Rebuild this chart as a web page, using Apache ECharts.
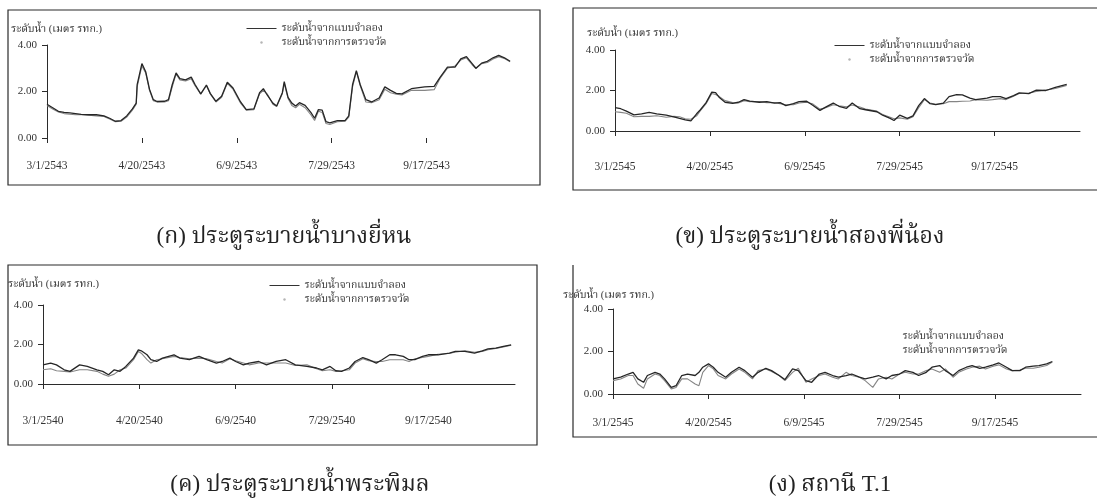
<!DOCTYPE html>
<html>
<head>
<meta charset="utf-8">
<script src="https://cdn.jsdelivr.net/npm/echarts@6/dist/echarts.min.js"></script>
<style>
  html, body { margin: 0; padding: 0; background: #fff; }
  #chart { width: 1097px; height: 500px; }
</style>
</head>
<body>
<div id="chart"></div>
<script>
// Series names, axis title and captions
const MODEL = 'ระดับน้ำจากแบบจำลอง';
const OBS = 'ระดับน้ำจากการตรวจวัด';
const yTitle = 'ระดับน้ำ (เมตร รทก.)';
const captions = [
  '(ก) ประตูระบายน้ำบางยี่หน',
  '(ข) ประตูระบายน้ำสองพี่น้อง',
  '(ค) ประตูระบายน้ำพระพิมล',
  '(ง) สถานี T.1'
];

// Axis ticks: days counted from 1 March, labelled every 50 days
const tickDays = [0, 50, 100, 150, 200];
const labelsA = ['3/1/2543', '4/20/2543', '6/9/2543', '7/29/2543', '9/17/2543'];
const labelsB = ['3/1/2545', '4/20/2545', '6/9/2545', '7/29/2545', '9/17/2545'];
const labelsC = ['3/1/2540', '4/20/2540', '6/9/2540', '7/29/2540', '9/17/2540'];
const labelsD = ['3/1/2545', '4/20/2545', '6/9/2545', '7/29/2545', '9/17/2545'];
const yTickValues = [0, 2, 4];

// (ก) Bang Yi Hon
const daysA = [0,3,6,9,12,15,18,22,26,30,33,36,39,42,45,47,47.5,50,52,54,56,58,62,64,66,68,70,73,76,78,81,84,86,89,92,95,98,102,105,109,112,114,116,119,121,124,125,127,129,131,133,136,139,141,143,145,147,149,153,157,159,161,163,165,168,171,175,178,181,184,187,192,199,204,207,211,215,218,221,224,226,229,232,235,238,241,244];
const modelA = [1.45,1.30,1.15,1.10,1.08,1.05,1.02,1.00,1.00,0.95,0.85,0.72,0.75,0.95,1.25,1.50,2.30,3.20,2.85,2.10,1.65,1.57,1.58,1.65,2.30,2.80,2.55,2.50,2.62,2.30,1.90,2.28,1.92,1.58,1.80,2.40,2.15,1.55,1.22,1.25,1.95,2.12,1.85,1.50,1.38,1.95,2.42,1.75,1.50,1.38,1.52,1.40,1.10,0.85,1.22,1.20,0.70,0.65,0.75,0.75,0.95,2.30,2.90,2.30,1.65,1.55,1.72,2.20,2.05,1.92,1.90,2.12,2.20,2.22,2.60,3.05,3.05,3.40,3.50,3.20,3.00,3.22,3.30,3.45,3.55,3.45,3.30];
const obsA = [1.40,1.25,1.12,1.05,1.02,1.00,1.00,0.98,0.95,0.93,0.82,0.70,0.72,0.90,1.20,1.45,2.20,3.10,2.80,2.05,1.60,1.55,1.55,1.60,2.20,2.75,2.50,2.45,2.55,2.25,1.88,2.25,1.90,1.55,1.75,2.35,2.10,1.50,1.20,1.22,1.90,2.05,1.90,1.45,1.35,1.90,2.35,1.70,1.40,1.30,1.45,1.30,1.00,0.75,1.15,1.10,0.62,0.58,0.70,0.72,0.90,2.20,2.85,2.25,1.55,1.52,1.65,2.10,1.95,1.88,1.85,2.05,2.05,2.08,2.55,3.00,3.10,3.35,3.45,3.15,2.98,3.20,3.25,3.40,3.50,3.42,3.28];

// (ข) Song Phi Nong
const daysB = [0,3,6,10,14,18,22,27,31,34,37,40,43,45,48,51,53,55,58,62,65,68,71,76,80,84,87,90,94,97,101,104,108,111,115,118,122,125,129,132,138,141,145,147,150,154,157,160,163,166,169,173,176,180,183,187,190,196,199,203,206,210,213,218,222,227,232,238];
const modelB = [1.15,1.10,0.98,0.80,0.85,0.92,0.85,0.78,0.70,0.62,0.55,0.50,0.85,1.05,1.40,1.92,1.90,1.65,1.42,1.36,1.42,1.55,1.48,1.42,1.45,1.38,1.40,1.25,1.35,1.45,1.47,1.28,1.02,1.18,1.38,1.22,1.12,1.38,1.10,1.05,0.95,0.78,0.62,0.52,0.78,0.62,0.75,1.25,1.60,1.35,1.30,1.38,1.70,1.80,1.78,1.62,1.55,1.62,1.70,1.70,1.60,1.75,1.88,1.85,2.02,2.00,2.15,2.30];
const obsB = [0.95,0.92,0.88,0.70,0.72,0.72,0.75,0.68,0.72,0.70,0.60,0.58,0.75,1.00,1.35,1.85,1.80,1.70,1.50,1.40,1.38,1.50,1.45,1.45,1.40,1.40,1.35,1.30,1.30,1.38,1.42,1.35,1.08,1.15,1.30,1.25,1.20,1.28,1.18,1.08,0.98,0.82,0.68,0.60,0.65,0.58,0.70,1.15,1.55,1.38,1.32,1.35,1.45,1.45,1.47,1.48,1.55,1.52,1.55,1.60,1.55,1.72,1.85,1.88,1.95,2.02,2.10,2.25];

// (ค) Phra Phimon
const daysC = [0,4,7,11,14,19,23,28,31,34,37,40,43,47,49.5,51,54,56,59,62,68,71,76,81,85,90,93,97,100,104,107,112,116,121,126,131,137,142,145,149,152,155,159,162,166,169,173,176,180,183,187,190,193,197,200,205,211,214,219,224,228,231,235,239,243];
const modelC = [0.97,1.06,0.97,0.72,0.64,0.97,0.89,0.72,0.64,0.47,0.72,0.64,0.89,1.31,1.73,1.68,1.48,1.23,1.14,1.31,1.48,1.31,1.23,1.40,1.23,1.06,1.14,1.31,1.14,0.97,1.06,1.14,0.97,1.14,1.23,0.97,0.89,0.81,0.72,0.89,0.67,0.64,0.81,1.14,1.34,1.23,1.06,1.23,1.48,1.48,1.40,1.23,1.23,1.40,1.48,1.48,1.56,1.65,1.65,1.56,1.68,1.78,1.82,1.90,1.98];
const obsC = [0.72,0.77,0.67,0.64,0.61,0.72,0.72,0.64,0.50,0.39,0.50,0.72,0.81,1.23,1.65,1.56,1.23,1.06,1.23,1.28,1.40,1.34,1.28,1.31,1.28,1.14,1.06,1.28,1.18,1.06,0.97,1.06,1.06,1.06,1.06,0.94,0.97,0.77,0.67,0.72,0.64,0.67,0.72,1.06,1.28,1.18,1.14,1.14,1.23,1.23,1.23,1.14,1.28,1.34,1.40,1.51,1.56,1.61,1.68,1.61,1.65,1.73,1.80,1.88,1.96];

// (ง) Station T.1
const daysD = [0,4,8,10.5,13,16,18,22,24.5,27,30.5,33,36,39,43,45,47,50,52.5,55,59,62,66,69,73,76,80,83,87,90,94,97,101,104,108,111,115,118,122,125,129,132,136,139,143,146,150,153,157,160,164,167,171,174,178,181,185,188,192,195,199,202,206,209,213,216,220,223,227,230];
const modelD = [0.71,0.79,0.94,1.02,0.71,0.55,0.87,1.02,0.94,0.71,0.31,0.39,0.87,0.94,0.87,1.02,1.26,1.42,1.26,1.02,0.79,1.02,1.26,1.10,0.79,1.02,1.21,1.10,0.87,0.68,1.18,1.10,0.63,0.55,0.94,1.02,0.87,0.79,0.87,0.94,0.79,0.71,0.79,0.87,0.71,0.87,0.94,1.10,1.02,0.87,1.02,1.26,1.34,1.10,0.87,1.10,1.26,1.34,1.21,1.26,1.37,1.46,1.26,1.10,1.10,1.26,1.31,1.34,1.42,1.53];
const obsD = [0.63,0.71,0.87,0.87,0.47,0.27,0.71,0.94,0.87,0.63,0.24,0.31,0.71,0.71,0.47,0.39,1.02,1.34,1.18,0.87,0.71,0.94,1.18,1.02,0.71,1.10,1.18,1.06,0.87,0.63,1.02,1.21,0.55,0.71,0.87,0.94,0.79,0.71,1.02,0.87,0.79,0.63,0.31,0.71,0.79,0.71,0.94,1.02,0.94,0.94,1.10,1.18,1.02,1.18,0.79,1.02,1.18,1.26,1.31,1.18,1.31,1.37,1.18,1.10,1.13,1.21,1.21,1.26,1.34,1.50];

const SERIF = '"Liberation Serif", "Noto Serif Thai", "Norasi", "Laksaman", "DejaVu Serif", serif';
const INK = '#2b2b2b';

// Layout of the four panels (plot area, outer frame, legend and titles)
const panels = [
  { days: daysA, model: modelA, obs: obsA, labels: labelsA,
    grid: { left: 47, top: 45, width: 465, height: 93 }, xLine: false, labelMargin: 22,
    legend: { left: 241, top: 18 }, legendIcons: true,
    title: { x: 11, y: 29 }, caption: { x: 284, y: 237 } },
  { days: daysB, model: modelB, obs: obsB, labels: labelsB,
    grid: { left: 615, top: 50, width: 465, height: 81 }, xLine: true, labelMargin: 30,
    legend: { left: 829, top: 35 }, legendIcons: true,
    title: { x: 587, y: 33 }, caption: { x: 810, y: 237 } },
  { days: daysC, model: modelC, obs: obsC, labels: labelsC,
    grid: { left: 43, top: 305, width: 472, height: 79 }, xLine: true, labelMargin: 31,
    legend: { left: 264, top: 275 }, legendIcons: true,
    title: { x: 8, y: 284 }, caption: { x: 300, y: 485 } },
  { days: daysD, model: modelD, obs: obsD, labels: labelsD,
    grid: { left: 613, top: 309, width: 468, height: 85 }, xLine: true, labelMargin: 23,
    legend: { left: 862, top: 326 }, legendIcons: false,
    title: { x: 563, y: 295 }, caption: { x: 830, y: 485 } }
];

const grids = [], xAxes = [], yAxes = [], series = [], legends = [];

panels.forEach((p, i) => {
  grids.push(Object.assign({ containLabel: false }, p.grid));

  xAxes.push({
    type: 'value', gridIndex: i, min: 0, max: 245,
    axisLine: { show: p.xLine, lineStyle: { color: INK, width: 1 } },
    axisTick: { show: true, customValues: tickDays, length: 5, lineStyle: { color: INK } },
    axisLabel: {
      customValues: tickDays, margin: p.labelMargin,
      fontFamily: SERIF, fontSize: 11.5, color: '#333',
      formatter: v => p.labels[tickDays.indexOf(v)] || ''
    },
    splitLine: { show: false }
  });

  yAxes.push({
    type: 'value', gridIndex: i, min: 0, max: 4, interval: 2,
    axisLine: { show: true, lineStyle: { color: INK, width: 1 } },
    axisTick: { show: true, length: 5, lineStyle: { color: INK } },
    axisLabel: {
      margin: 10, fontFamily: SERIF, fontSize: 11, color: '#333',
      formatter: v => yTickValues.indexOf(v) >= 0 ? v.toFixed(2) : ''
    },
    splitLine: { show: false }
  });

  series.push({
    name: OBS, type: 'line', xAxisIndex: i, yAxisIndex: i,
    data: p.days.map((d, k) => [d, p.obs[k]]),
    symbol: 'none', smooth: false,
    lineStyle: { color: '#858585', width: 1.1 }, itemStyle: { color: '#858585' },
    z: 2, silent: true
  });
  series.push({
    name: MODEL, type: 'line', xAxisIndex: i, yAxisIndex: i,
    data: p.days.map((d, k) => [d, p.model[k]]),
    symbol: 'none', smooth: false,
    lineStyle: { color: '#262626', width: 1.3 }, itemStyle: { color: '#262626' },
    z: 3, silent: true
  });

  legends.push({
    orient: 'vertical', left: p.legend.left, top: p.legend.top,
    itemWidth: 30, itemHeight: 3, itemGap: 3, selectedMode: false,
    textStyle: { fontFamily: SERIF, fontSize: 10.5, color: '#333' },
    data: [
      { name: MODEL,
        itemStyle: { color: 'rgba(0,0,0,0)', borderWidth: 0 },
        lineStyle: { color: p.legendIcons ? '#333' : 'rgba(0,0,0,0)', width: 1 } },
      { name: OBS,
        itemStyle: { color: p.legendIcons ? '#b5b5b5' : 'rgba(0,0,0,0)', borderWidth: 0 },
        lineStyle: { color: 'rgba(0,0,0,0)', width: 0 } }
    ]
  });
});

// Panel frames, axis titles and captions
const graphics = [
  { type: 'rect', shape: { x: 8, y: 10, width: 532, height: 175 },
    style: { fill: 'none', stroke: INK, lineWidth: 1.2 }, silent: true },
  { type: 'rect', shape: { x: 573, y: 8, width: 540, height: 182 },
    style: { fill: 'none', stroke: INK, lineWidth: 1.2 }, silent: true },
  { type: 'rect', shape: { x: 8, y: 265, width: 529, height: 180 },
    style: { fill: 'none', stroke: INK, lineWidth: 1.2 }, silent: true },
  { type: 'polyline', shape: { points: [[573, 265], [573, 437], [1100, 437]] },
    style: { fill: 'none', stroke: INK, lineWidth: 1.2 }, silent: true }
];
panels.forEach((p, i) => {
  graphics.push({
    type: 'text', x: p.title.x, y: p.title.y, silent: true,
    style: { text: yTitle, font: '10.5px ' + SERIF, fill: '#333', align: 'left', verticalAlign: 'middle' }
  });
  graphics.push({
    type: 'text', x: p.caption.x, y: p.caption.y, silent: true,
    style: { text: captions[i], font: '23px ' + SERIF, fill: '#222', align: 'center', verticalAlign: 'middle' }
  });
});

const chart = echarts.init(document.getElementById('chart'), null, { renderer: 'canvas' });
chart.setOption({
  animation: false,
  backgroundColor: '#ffffff',
  grid: grids,
  xAxis: xAxes,
  yAxis: yAxes,
  legend: legends,
  series: series,
  graphic: graphics
});
</script>
</body>
</html>
